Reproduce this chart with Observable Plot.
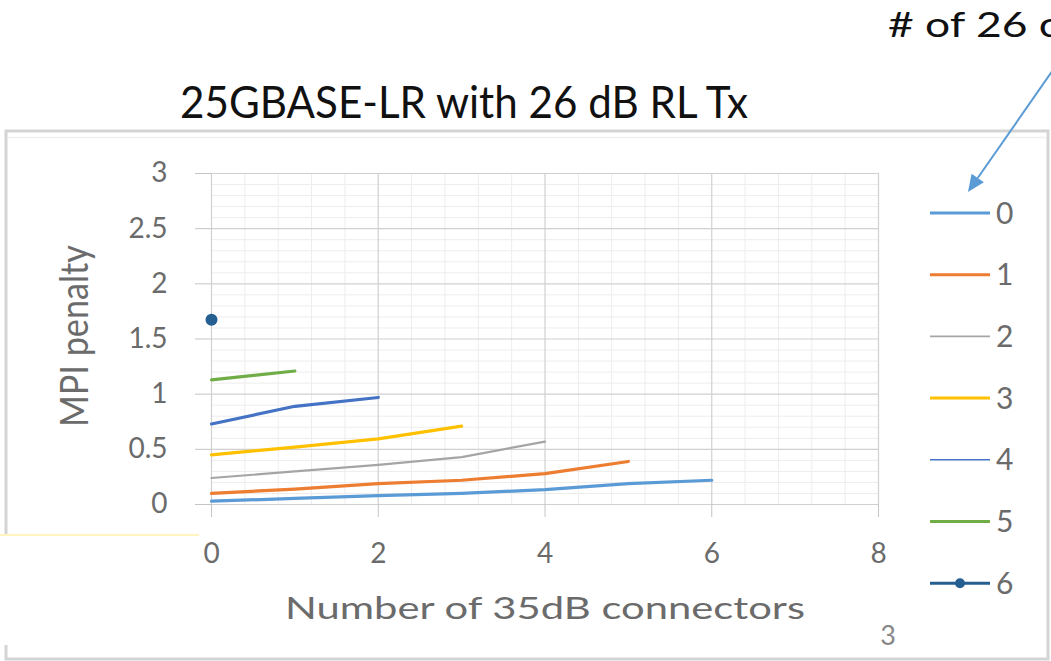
<!DOCTYPE html>
<html><head><meta charset="utf-8">
<script src="https://cdn.jsdelivr.net/npm/d3@7"></script>
<script src="https://cdn.jsdelivr.net/npm/@observablehq/plot@0.6"></script>
<style>
html,body{margin:0;padding:0;background:#fff;}
#wrap{position:relative;width:1051px;height:661px;overflow:hidden;background:#fff;font-family:Lato,sans-serif;}
#wrap svg{position:absolute;left:0;top:0;}
</style></head><body><div id="wrap"></div>
<script>
// ---- data ----
const title = "25GBASE-LR with 26 dB RL Tx";
const annotation = "# of 26 c";
const xLabel = "Number of 35dB connectors";
const yLabel = "MPI penalty";
const pageNumber = "3";
const seriesNames = ["0", "1", "2", "3", "4", "5", "6"];
const seriesColors = ["#5B9BD5", "#ED7D31", "#A5A5A5", "#FFC000", "#4472C4", "#70AD47", "#255E91"];
const seriesWidths = [3.2, 3.2, 2.2, 3.2, 3.2, 3.2, 3.2];
const connectors = [0, 1, 2, 3, 4, 5, 6];
const series0 = [0.03, 0.055, 0.08, 0.10, 0.135, 0.19, 0.22];
const series1 = [0.10, 0.14, 0.19, 0.22, 0.28, 0.39];
const series2 = [0.24, 0.30, 0.36, 0.43, 0.57];
const series3 = [0.45, 0.52, 0.595, 0.71];
const series4 = [0.73, 0.89, 0.97];
const series5 = [1.13, 1.21];
const series6 = [1.675];
const xTicks = [0, 2, 4, 6, 8];
const yTicks = [0, 0.5, 1, 1.5, 2, 2.5, 3];

const allSeries = [series0, series1, series2, series3, series4, series5, series6];
const rows = allSeries.flatMap((vals, i) =>
  vals.map((v, j) => ({series: seriesNames[i], x: connectors[j], y: v})));

const xMinor = d3.range(0, 8.001, 0.4).filter(v => Math.abs(v / 2 - Math.round(v / 2)) > 1e-6);
const yMinor = d3.range(0, 3.001, 0.1).filter(v => Math.abs(v * 2 - Math.round(v * 2)) > 1e-6);

const chart = Plot.plot({
  width: 1051, height: 661,
  marginLeft: 211, marginRight: 173, marginTop: 173, marginBottom: 157,
  x: {domain: [0, 8]},
  y: {domain: [0, 3]},
  color: {domain: seriesNames, range: seriesColors},
  style: {fontFamily: "Lato, sans-serif", fontSize: "28px", background: "transparent", color: "#6b6b6b", overflow: "visible"},
  marks: [
    Plot.ruleX(xMinor, {stroke: "#EDEDED", strokeWidth: 1}),
    Plot.ruleY(yMinor, {stroke: "#EDEDED", strokeWidth: 1}),
    Plot.ruleX(xTicks, {stroke: "#D0D0D0", strokeWidth: 1.2}),
    Plot.ruleY(yTicks, {stroke: "#D0D0D0", strokeWidth: 1.2}),
    Plot.axisY({ticks: yTicks, tickSize: 16, tickPadding: 28, tickFormat: d => `${d}`, stroke: "#C4C4C4", fill: "#6b6b6b", label: null}),
    Plot.axisX({ticks: xTicks, tickSize: 13, tickPadding: 26, tickFormat: d => `${d}`, stroke: "#C4C4C4", fill: "#6b6b6b", label: null}),
    ...seriesNames.slice(0, 6).map((name, i) =>
      Plot.line(rows.filter(d => d.series === name), {x: "x", y: "y", stroke: "series", strokeWidth: seriesWidths[i]})),
    Plot.dot(rows.filter(d => d.series === "6"), {x: "x", y: "y", fill: "series", r: 6})
  ]
});
const wrap = document.getElementById("wrap");
wrap.appendChild(chart);

// ---- overlay: frame, titles, legend, arrow ----
const ov = d3.select(wrap).append("svg").attr("width", 1051).attr("height", 661)
  .attr("font-family", "Lato, sans-serif").style("pointer-events", "none");

// chart area frame
ov.append("rect").attr("x", 6).attr("y", 131).attr("width", 1042).attr("height", 528)
  .attr("fill", "none").attr("stroke", "#D4D4D4").attr("stroke-width", 3);
ov.append("line").attr("x1", 8).attr("x2", 1046).attr("y1", 137.5).attr("y2", 137.5)
  .attr("stroke", "#F0F0F0").attr("stroke-width", 1.5);
// white patch bottom-left
ov.append("rect").attr("x", 0).attr("y", 535).attr("width", 199).attr("height", 110).attr("fill", "#fff");
ov.append("line").attr("x1", 0).attr("x2", 199).attr("y1", 535).attr("y2", 535)
  .attr("stroke", "#FFF4C2").attr("stroke-width", 2);

// title
ov.append("text").attr("x", 180).attr("y", 118).attr("font-size", 45).attr("fill", "#111")
  .attr("textLength", 568).attr("lengthAdjust", "spacingAndGlyphs").text(title);
// annotation
ov.append("text").attr("x", 888).attr("y", 37).attr("font-size", 35).attr("fill", "#111")
  .attr("textLength", 172).attr("lengthAdjust", "spacingAndGlyphs").text(annotation);
// arrow
{
  const x0 = 1053, y0 = 70, tx = 968, ty = 192;
  const dx = tx - x0, dy = ty - y0, L = Math.hypot(dx, dy), ux = dx / L, uy = dy / L;
  const hl = 17, hw = 7.5;
  const bx = tx - hl * ux, by = ty - hl * uy, nx = -uy, ny = ux;
  ov.append("line").attr("x1", x0).attr("y1", y0).attr("x2", bx).attr("y2", by)
    .attr("stroke", "#5B9BD5").attr("stroke-width", 2);
  ov.append("polygon").attr("points", `${tx},${ty} ${bx + hw * nx},${by + hw * ny} ${bx - hw * nx},${by - hw * ny}`)
    .attr("fill", "#5B9BD5");
}
// axis labels
ov.append("text").attr("x", 285).attr("y", 619).attr("font-size", 31).attr("fill", "#6b6b6b")
  .attr("textLength", 520).attr("lengthAdjust", "spacingAndGlyphs").text(xLabel);
ov.append("text").attr("transform", "translate(88,427) rotate(-90)").attr("font-size", 38).attr("fill", "#6b6b6b")
  .attr("textLength", 182).attr("lengthAdjust", "spacingAndGlyphs").text(yLabel);
// page number
ov.append("text").attr("x", 888).attr("y", 645).attr("font-size", 27).attr("fill", "#888")
  .attr("text-anchor", "middle").text(pageNumber);

// legend
const legendWidths = [3, 3, 1.6, 3, 1.6, 3, 3];
seriesNames.forEach((name, i) => {
  const y = 213 + i * 61.7;
  ov.append("line").attr("x1", 930).attr("x2", 990).attr("y1", y).attr("y2", y)
    .attr("stroke", seriesColors[i]).attr("stroke-width", legendWidths[i]);
  if (i === 6) ov.append("circle").attr("cx", 960).attr("cy", y).attr("r", 5).attr("fill", seriesColors[i]);
  ov.append("text").attr("x", 996).attr("y", y + 10.5).attr("font-size", 30).attr("fill", "#6b6b6b").text(name);
});
</script></body></html>
